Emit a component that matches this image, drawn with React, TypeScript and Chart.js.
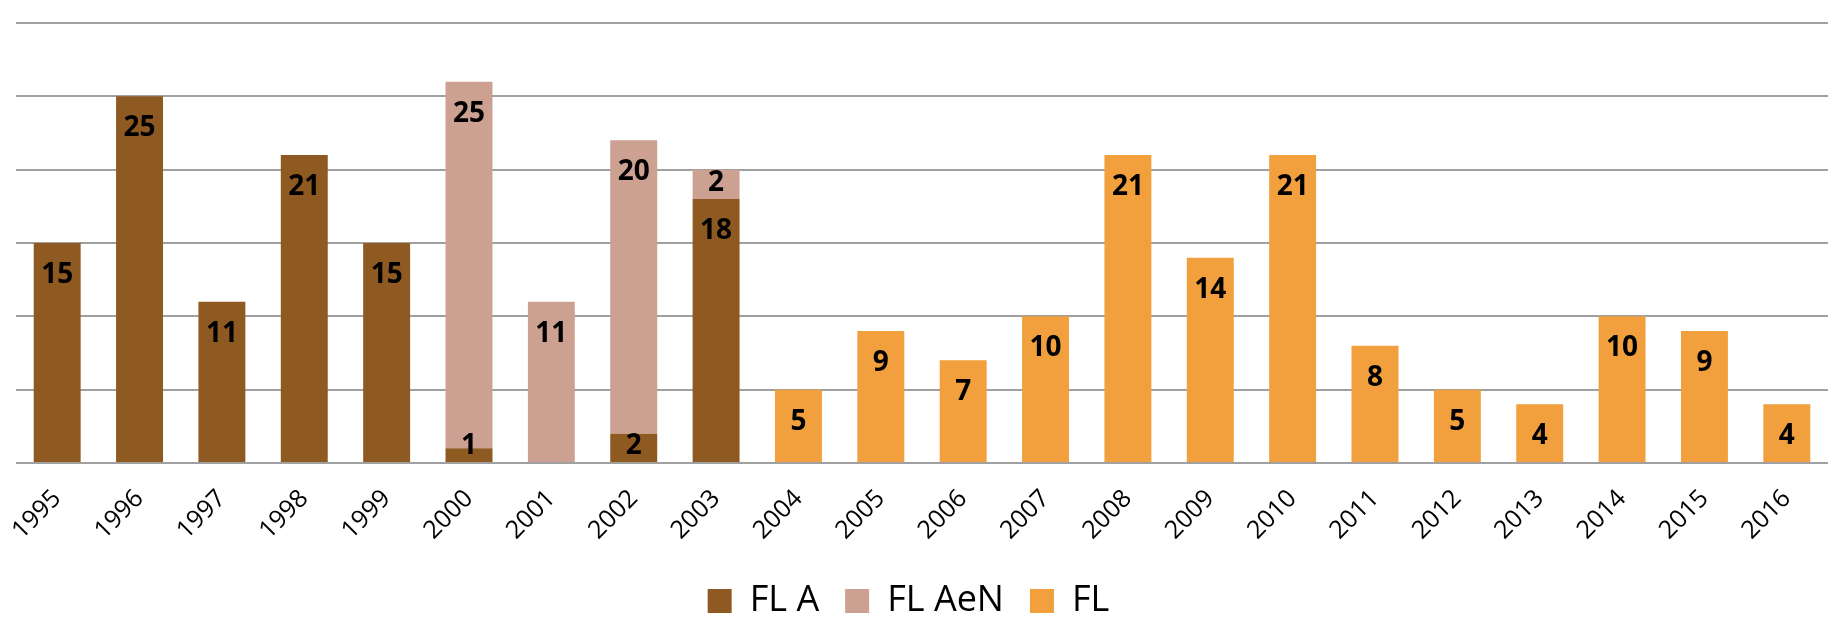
import React, { useEffect, useRef } from "react";
import { Chart, registerables } from "chart.js";

Chart.register(...registerables);

const years = ["1995","1996","1997","1998","1999","2000","2001","2002","2003","2004","2005","2006","2007","2008","2009","2010","2011","2012","2013","2014","2015","2016"];
const flA = [15, 25, 11, 21, 15, 1, null, 2, 18, null, null, null, null, null, null, null, null, null, null, null, null, null];
const flAeN = [null, null, null, null, null, 25, 11, 20, 2, null, null, null, null, null, null, null, null, null, null, null, null, null];
const fl = [null, null, null, null, null, null, null, null, null, 5, 9, 7, 10, 21, 14, 21, 8, 5, 4, 10, 9, 4];
const seriesNames = ["FL A", "FL AeN", "FL"];
const seriesColors = ["#8F5922", "#CDA192", "#F1A03D"];

const labelPlugin = {
  id: "barLabels",
  afterLayout(chart: any) {
    const lg = chart.legend;
    if (lg) {
      lg.left -= 16;
      lg.right -= 16;
    }
  },
  afterDatasetsDraw(chart: any) {
    const ctx = chart.ctx;
    ctx.save();
    ctx.font = "bold 28px 'Open Sans'";
    ctx.fillStyle = "#000";
    ctx.textAlign = "center";
    ctx.textBaseline = "middle";
    chart.data.datasets.forEach((ds: any, di: number) => {
      const meta = chart.getDatasetMeta(di);
      meta.data.forEach((el: any, i: number) => {
        const v = ds.data[i];
        if (v === null || v === undefined || v === 0) return;
        const top = Math.min(el.y, el.base);
        const bottom = Math.max(el.y, el.base);
        const y = Math.min(top + 32, bottom - 16);
        ctx.fillText(String(v), el.x, y);
      });
    });
    ctx.restore();
  },
};

export default function App() {
  const ref = useRef<HTMLCanvasElement>(null);
  useEffect(() => {
    document.body.style.margin = "0";
    const chart = new Chart(ref.current!, {
      type: "bar",
      data: {
        labels: years,
        datasets: [flA, flAeN, fl].map((d, k) => ({
          label: seriesNames[k],
          data: d,
          backgroundColor: seriesColors[k],
          borderWidth: 0,
          barPercentage: 0.57,
          categoryPercentage: 1,
        })),
      },
      options: {
        responsive: false,
        animation: false,
        layout: { padding: { left: 16, right: -5, top: 23, bottom: -12 } },
        plugins: {
          tooltip: { enabled: false },
          legend: {
            position: "bottom",
            labels: {
              boxWidth: 24,
              boxHeight: 24,
              padding: 26,
              color: "#000",
              font: { family: "'Open Sans'", size: 36 },
            },
          },
        },
        scales: {
          x: {
            stacked: true,
            grid: { display: false },
            border: { display: false },
            afterFit: (scale: any) => {
              scale.height = 94;
            },
            ticks: {
              color: "#000",
              font: { family: "'Open Sans'", size: 25 },
              maxRotation: 45,
              minRotation: 45,
              padding: 13,
              autoSkip: false,
            },
          },
          y: {
            stacked: true,
            min: 0,
            max: 30,
            border: { display: false },
            grid: { color: "#A0A0A0", lineWidth: 2, drawTicks: false },
            ticks: { display: false, stepSize: 5 },
          },
        },
      },
      plugins: [labelPlugin],
    });
    return () => chart.destroy();
  }, []);
  return (
    <div style={{ position: "absolute", left: 0, top: 0, width: 1828, height: 617, overflow: "hidden" }}>
      <canvas ref={ref} width={1828} height={617} />
    </div>
  );
}
